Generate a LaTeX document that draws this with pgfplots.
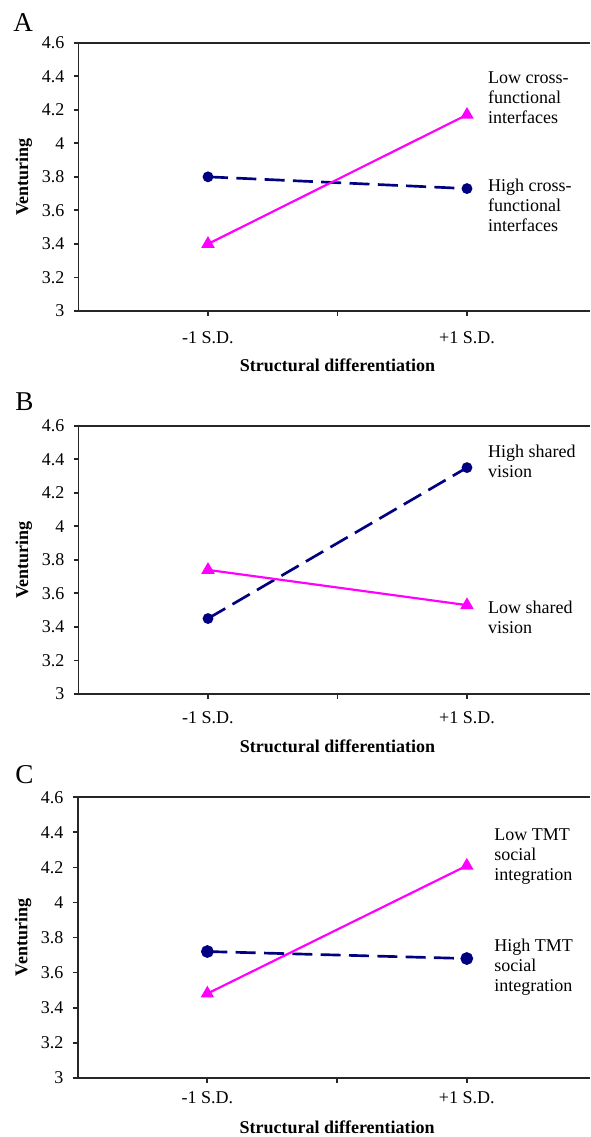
\documentclass[border=0pt]{standalone}
\usepackage{fontspec}
\setmainfont{Liberation Serif}
\usepackage{pgfplots}
\pgfplotsset{compat=1.18}
\definecolor{navyline}{HTML}{000080}
\definecolor{pinkline}{HTML}{FF00FF}

\pgfplotsset{
  sdpanel/.style={
    scale only axis,
    width=306.9pt,
    xmin=0, xmax=3.95,
    ymin=3, ymax=4.6,
    xtick={1,2,3},
    xticklabels={-1 S.D.,,+1 S.D.},
    ytick={3,3.2,3.4,3.6,3.8,4,4.2,4.4,4.6},
    axis x line=box,
    axis y line=left,
    axis line style={-, line width=1.1pt, black!85},
    xtick pos=bottom,
    tick align=outside,
    major tick length=3pt,
    tick style={line width=1.1pt, black!85},
    /pgf/number format/assume math mode=true,
    tick label style={font=\fontsize{10.8}{12}\selectfont},
    yticklabel style={xshift=-2pt},
    label style={font=\fontsize{10.8}{12}\selectfont\bfseries},
    xlabel={Structural differentiation},
    ylabel={Venturing},
    ylabel style={at={(axis description cs:-0.1066,0.5)}, anchor=center},
    clip=false,
  },
}
\tikzset{
  hiline/.style={navyline, line width=1.6pt, dash pattern=on 12pt off 5pt,
    mark=*, mark options={solid}},
  loline/.style={pinkline, line width=1.3pt, mark=triangle*, mark size=3.4pt,
    mark options={solid}},
  note/.style={anchor=west, align=left, inner sep=0pt,
    font=\fontsize{10.8}{12}\selectfont},
}

\begin{document}
\begin{tikzpicture}
\path[use as bounding box] (0,0) rectangle (354pt,-682.2pt);

% Panel A
\begin{axis}[sdpanel, at={(47.1pt,-186.6pt)}, anchor=south west, height=161pt,
    xticklabel style={yshift=-6pt},
    xlabel style={at={(axis description cs:0.5064,0)}, anchor=center, yshift=-32.4pt}]
\addplot[hiline, mark size=2.4pt] coordinates {(1,3.80) (3,3.73)};
\addplot[loline] coordinates {(1,3.40) (3,4.17)};
\node[note] at (axis cs:3.16,4.27) {Low cross-\\functional\\interfaces};
\node[note] at (axis cs:3.16,3.63) {High cross-\\functional\\interfaces};
\end{axis}

% Panel B
\begin{axis}[sdpanel, at={(47.1pt,-416.4pt)}, anchor=south west, height=161pt,
    xticklabel style={yshift=-4pt},
    xlabel style={at={(axis description cs:0.5064,0)}, anchor=center, yshift=-31.2pt}]
\addplot[hiline, mark size=2.4pt] coordinates {(1,3.45) (3,4.35)};
\addplot[loline] coordinates {(1,3.74) (3,3.53)};
\node[note] at (axis cs:3.16,4.39) {High shared\\vision};
\node[note] at (axis cs:3.16,3.455) {Low shared\\vision};
\end{axis}

% Panel C
\begin{axis}[sdpanel, at={(46.6pt,-646.6pt)}, anchor=south west, height=168.2pt,
    width=307.4pt,
    xticklabel style={yshift=-2pt},
    xlabel style={at={(axis description cs:0.5064,0)}, anchor=center, yshift=-30pt}]
\addplot[hiline, mark size=3pt] coordinates {(1,3.72) (3,3.68)};
\addplot[loline] coordinates {(1,3.48) (3,4.21)};
\node[note] at (axis cs:3.21,4.26) {Low TMT\\social\\integration};
\node[note] at (axis cs:3.21,3.63) {High TMT\\social\\integration};
\end{axis}

\node[anchor=west, inner sep=0pt, font=\fontsize{16.3}{18}\selectfont] at (7.8pt,-13.5pt) {A};
\node[anchor=west, inner sep=0pt, font=\fontsize{16.3}{18}\selectfont] at (9pt,-241pt) {B};
\node[anchor=west, inner sep=0pt, font=\fontsize{16.3}{18}\selectfont] at (9pt,-465pt) {C};
\end{tikzpicture}
\end{document}
